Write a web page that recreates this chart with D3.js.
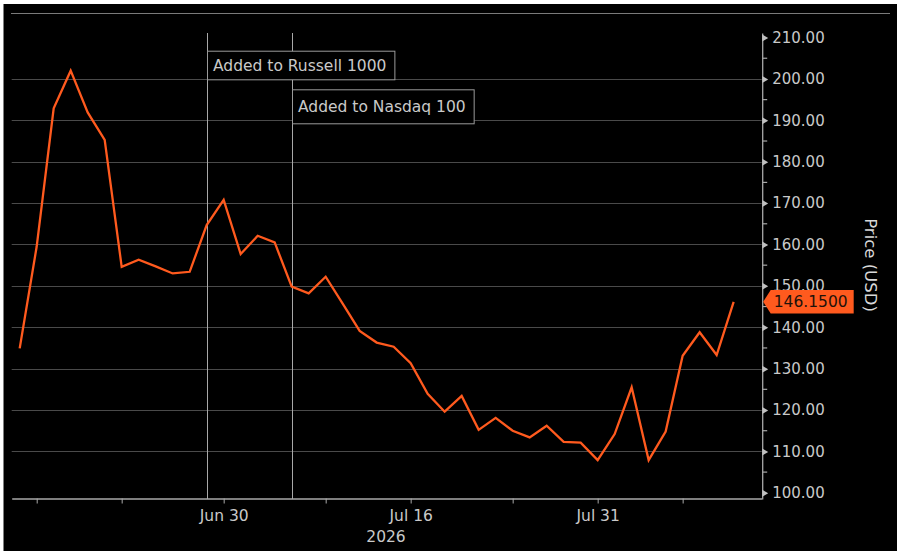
<!DOCTYPE html>
<html>
<head>
<meta charset="utf-8">
<script src="https://cdn.jsdelivr.net/npm/d3@7"></script>
<style>
  html, body { margin: 0; padding: 0; background: #fff; }
  svg { display: block; }
  text { font-family: "DejaVu Sans", sans-serif; }
</style>
</head>
<body>
<svg id="chart" width="900" height="554"></svg>
<script>
  // trading days shown on the chart (weekends and holidays skipped)
  var dates = [
    '2026-06-11', '2026-06-12', '2026-06-15', '2026-06-16', '2026-06-17', '2026-06-18',
    '2026-06-22', '2026-06-23', '2026-06-24', '2026-06-25', '2026-06-26', '2026-06-29',
    '2026-06-30', '2026-07-01', '2026-07-02', '2026-07-06', '2026-07-07', '2026-07-08',
    '2026-07-09', '2026-07-10', '2026-07-13', '2026-07-14', '2026-07-15', '2026-07-16',
    '2026-07-17', '2026-07-20', '2026-07-21', '2026-07-22', '2026-07-23', '2026-07-24',
    '2026-07-27', '2026-07-28', '2026-07-29', '2026-07-30', '2026-07-31', '2026-08-03',
    '2026-08-04', '2026-08-05', '2026-08-06', '2026-08-07', '2026-08-10', '2026-08-11',
    '2026-08-12'
  ];
  var prices = [
    134.9, 159.5, 192.9, 202.0, 191.9, 185.3,
    154.6, 156.3, 154.7, 153.0, 153.4, 164.7,
    170.8, 157.7, 162.1, 160.5, 149.8, 148.2,
    152.2, 145.7, 139.1, 136.3, 135.3, 131.3,
    123.9, 119.6, 123.4, 115.2, 118.1, 115.0,
    113.4, 116.2, 112.3, 112.1, 107.9, 114.2,
    125.5, 107.9, 114.8, 133.1, 138.8, 133.3,
    146.15
  ];
  var lastPrice = '146.1500';

  var xTickDates = ['2026-06-12', '2026-06-22', '2026-06-30', '2026-07-09',
                    '2026-07-16', '2026-07-24', '2026-07-31', '2026-08-07'];
  var xTickLabels = ['', '', 'Jun 30', '', 'Jul 16', '', 'Jul 31', ''];
  var yearLabel = '2026';

  var yTicks = [100, 110, 120, 130, 140, 150, 160, 170, 180, 190, 200, 210];
  var yGrid = [110, 120, 130, 140, 150, 160, 170, 180, 190, 200];

  var eventDates = ['2026-06-29', '2026-07-07'];
  var eventLabels = ['Added to Russell 1000', 'Added to Nasdaq 100'];

  var axisTitle = 'Price (USD)';

  var lineColor = '#ff5a1e';
  var textColor = '#c9c9c9';

  var svg = d3.select('#chart');

  // frame
  svg.append('rect')
    .attr('x', 3.5).attr('y', 4)
    .attr('width', 893.5).attr('height', 547)
    .attr('fill', '#000');

  svg.append('line')
    .attr('x1', 11).attr('x2', 890)
    .attr('y1', 13.5).attr('y2', 13.5)
    .attr('stroke', '#7a7a7a').attr('stroke-width', 1);

  var xScale = d3.scaleLinear()
    .domain([-0.47, 43.65])
    .range([11.7, 761.7]);

  var yScale = d3.scaleLinear()
    .domain([98.5, 211.1])
    .range([499, 33]);

  function xOf(date) {
    return xScale(dates.indexOf(date));
  }

  // horizontal grid
  svg.append('g')
    .selectAll('line')
    .data(yGrid)
    .enter().append('line')
    .attr('x1', xScale.range()[0]).attr('x2', xScale.range()[1])
    .attr('y1', function (d) { return Math.round(yScale(d)) + 0.5; })
    .attr('y2', function (d) { return Math.round(yScale(d)) + 0.5; })
    .attr('stroke', '#4a4a4a').attr('stroke-width', 1.2);

  // event lines
  var events = eventDates.map(function (d, i) {
    return { x: Math.round(xOf(d)) + 0.5, label: eventLabels[i] };
  });

  svg.append('g')
    .selectAll('line')
    .data(events)
    .enter().append('line')
    .attr('x1', function (d) { return d.x; })
    .attr('x2', function (d) { return d.x; })
    .attr('y1', yScale.range()[1])
    .attr('y2', yScale.range()[0])
    .attr('stroke', '#a8a8a8').attr('stroke-width', 1);

  // x axis
  var xAxis = svg.append('g')
    .attr('transform', 'translate(0,' + (yScale.range()[0] - 0.5) + ')')
    .call(d3.axisBottom(xScale)
      .tickValues(xTickDates.map(function (d) { return dates.indexOf(d); }))
      .tickSizeInner(5)
      .tickSizeOuter(0)
      .tickPadding(6)
      .tickFormat(function (d, i) { return xTickLabels[i]; }));

  xAxis.select('.domain').attr('stroke', '#a8a8a8').attr('stroke-width', 1.3);
  xAxis.selectAll('.tick line').attr('stroke', '#a8a8a8');
  xAxis.selectAll('.tick text')
    .attr('fill', textColor)
    .style('font-size', '15.5px');

  svg.append('text')
    .attr('x', 386).attr('y', 541.5)
    .attr('text-anchor', 'middle')
    .attr('fill', textColor)
    .style('font-size', '15.5px')
    .text(yearLabel);

  // y axis on the right
  var yAxis = svg.append('g')
    .attr('transform', 'translate(' + (xScale.range()[1] + 0.5) + ',0)')
    .call(d3.axisRight(yScale)
      .tickValues(yTicks)
      .tickSize(0)
      .tickPadding(10)
      .tickFormat(d3.format('.2f')));

  yAxis.select('.domain').attr('stroke', '#a8a8a8').attr('stroke-width', 1.3);
  yAxis.selectAll('.tick text')
    .attr('fill', textColor)
    .style('font-size', '15px');
  yAxis.selectAll('.tick')
    .append('path')
    .attr('d', 'M0,-3.5L6,0L0,3.5Z')
    .attr('fill', '#c0c0c0');

  // minor ticks between the labelled ones
  yAxis.append('g')
    .selectAll('line')
    .data(yTicks.slice(0, -1).map(function (d) { return d + 5; }))
    .enter().append('line')
    .attr('x1', 0).attr('x2', 5)
    .attr('y1', function (d) { return yScale(d); })
    .attr('y2', function (d) { return yScale(d); })
    .attr('stroke', '#a8a8a8').attr('stroke-width', 1.2);

  // event labels
  var boxTops = [50.7, 89.3];
  var boxHeights = [28.6, 34];
  events.forEach(function (ev, i) {
    var g = svg.append('g');
    var box = g.append('rect')
      .attr('x', ev.x).attr('y', boxTops[i] + 0.5)
      .attr('height', boxHeights[i])
      .attr('fill', '#000')
      .attr('stroke', '#9a9a9a').attr('stroke-width', 1);
    var t = g.append('text')
      .attr('x', ev.x + 5.5)
      .attr('y', boxTops[i] + boxHeights[i] / 2 + 6)
      .attr('fill', textColor)
      .style('font-size', '15.5px')
      .text(ev.label);
    box.attr('width', t.node().getComputedTextLength() + 14);
  });

  // price line
  var lineFun = d3.line()
    .x(function (d, i) { return xScale(i); })
    .y(function (d) { return yScale(d); });

  svg.append('path')
    .datum(prices)
    .attr('d', lineFun)
    .attr('fill', 'none')
    .attr('stroke', lineColor)
    .attr('stroke-width', 2.3)
    .attr('stroke-linejoin', 'miter');

  // last price tag (sits over the 150.00 label, as in the terminal view)
  var tagY = yScale(prices[prices.length - 1]);
  var tagX = xScale.range()[1] + 1.5;
  var tag = svg.append('g').attr('transform', 'translate(' + tagX + ',' + tagY + ')');
  tag.append('path')
    .attr('d', 'M0,0L7.5,-11.7L90.5,-11.7L90.5,11.7L7.5,11.7Z')
    .attr('fill', lineColor);
  tag.append('text')
    .attr('x', 47.5).attr('y', 5.5)
    .attr('text-anchor', 'middle')
    .attr('fill', '#1e120a')
    .style('font-size', '15.5px')
    .text(lastPrice);

  // axis title
  svg.append('text')
    .attr('transform', 'translate(865,265) rotate(90)')
    .attr('text-anchor', 'middle')
    .attr('fill', '#d8d8d8')
    .style('font-size', '16.5px')
    .text(axisTitle);
</script>
</body>
</html>
